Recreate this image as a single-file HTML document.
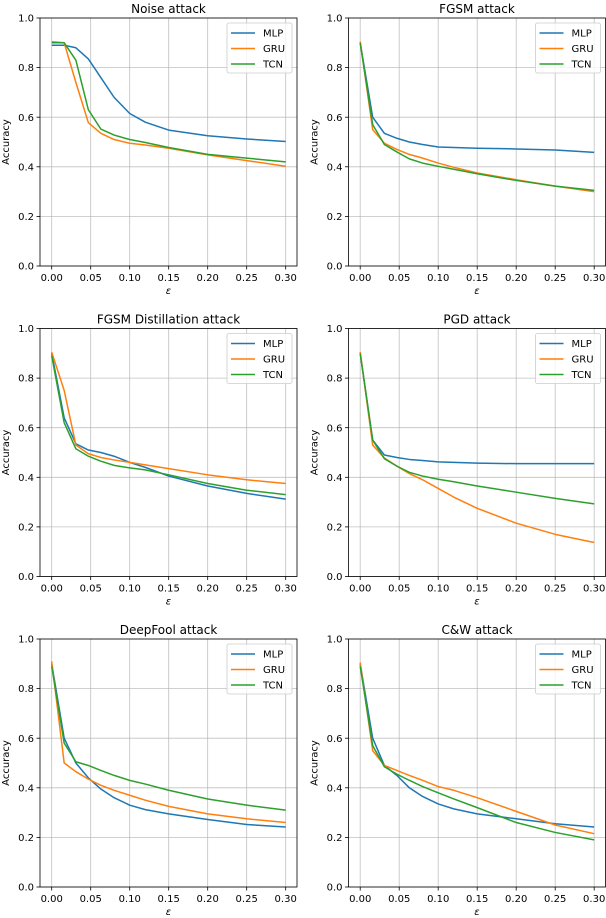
<!DOCTYPE html>
<html><head><meta charset="utf-8">
<style>
html,body{margin:0;padding:0;background:#fff;}
svg{display:block;font-family:"DejaVu Sans","Liberation Sans",sans-serif;}
</style></head>
<body>
<svg id="fig" width="606" height="918" viewBox="0 0 606 918" xmlns="http://www.w3.org/2000/svg"></svg>
<script>
const eps = [0,0.016,0.031,0.047,0.063,0.08,0.1,0.12,0.15,0.2,0.25,0.3];
const seriesNames = ["MLP","GRU","TCN"];
const seriesColors = ["#1f77b4","#ff7f0e","#2ca02c"];
const xTicks = [0,0.05,0.10,0.15,0.20,0.25,0.30];
const xTickLabels = ["0.00","0.05","0.10","0.15","0.20","0.25","0.30"];
const yTicks = [0,0.2,0.4,0.6,0.8,1.0];
const yTickLabels = ["0.0","0.2","0.4","0.6","0.8","1.0"];
const titles = ["Noise attack","FGSM attack","FGSM Distillation attack","PGD attack","DeepFool attack","C&W attack"];

const noiseMLP = [0.89,0.89,0.88,0.835,0.76,0.68,0.615,0.58,0.548,0.525,0.512,0.502];
const noiseGRU = [0.905,0.90,0.74,0.578,0.535,0.51,0.495,0.488,0.475,0.448,0.425,0.402];
const noiseTCN = [0.90,0.90,0.83,0.63,0.552,0.528,0.51,0.498,0.478,0.45,0.435,0.42];
const fgsmMLP = [0.90,0.60,0.535,0.515,0.50,0.49,0.48,0.478,0.475,0.472,0.468,0.458];
const fgsmGRU = [0.905,0.55,0.495,0.47,0.45,0.435,0.415,0.398,0.375,0.348,0.322,0.30];
const fgsmTCN = [0.90,0.57,0.49,0.46,0.432,0.415,0.402,0.39,0.372,0.345,0.322,0.305];
const distMLP = [0.90,0.64,0.535,0.51,0.50,0.485,0.46,0.44,0.405,0.365,0.335,0.312];
const distGRU = [0.905,0.75,0.53,0.495,0.48,0.47,0.46,0.45,0.435,0.41,0.39,0.375];
const distTCN = [0.89,0.62,0.515,0.485,0.465,0.448,0.438,0.43,0.41,0.375,0.348,0.33];
const pgdMLP = [0.90,0.55,0.49,0.48,0.472,0.468,0.462,0.46,0.457,0.455,0.455,0.455];
const pgdGRU = [0.905,0.53,0.478,0.445,0.415,0.39,0.355,0.32,0.275,0.215,0.17,0.137];
const pgdTCN = [0.90,0.55,0.475,0.445,0.42,0.405,0.392,0.382,0.365,0.34,0.315,0.293];
const dfMLP = [0.90,0.60,0.50,0.44,0.395,0.36,0.33,0.312,0.295,0.272,0.252,0.242];
const dfGRU = [0.91,0.50,0.465,0.435,0.41,0.39,0.37,0.35,0.325,0.295,0.275,0.26];
const dfTCN = [0.89,0.58,0.505,0.49,0.47,0.45,0.43,0.415,0.39,0.355,0.33,0.31];
const cwMLP = [0.90,0.60,0.49,0.45,0.40,0.365,0.335,0.315,0.295,0.275,0.255,0.242];
const cwGRU = [0.905,0.55,0.49,0.47,0.45,0.43,0.405,0.39,0.36,0.305,0.25,0.215];
const cwTCN = [0.89,0.57,0.485,0.455,0.43,0.405,0.38,0.355,0.32,0.26,0.22,0.19];

const panelData = [
  [noiseMLP,noiseGRU,noiseTCN],[fgsmMLP,fgsmGRU,fgsmTCN],
  [distMLP,distGRU,distTCN],[pgdMLP,pgdGRU,pgdTCN],
  [dfMLP,dfGRU,dfTCN],[cwMLP,cwGRU,cwTCN]
];
const panelNames = ["noise","fgsm","fgsm-distillation","pgd","deepfool","cw"];

const NS="http://www.w3.org/2000/svg";
const svg=document.getElementById('fig');
function mk(tag,attrs,parent,text){const e=document.createElementNS(NS,tag);for(const k in attrs)e.setAttribute(k,attrs[k]);if(text!==undefined)e.textContent=text;parent.appendChild(e);return e;}

const lefts=[40,348.5], tops=[18,328.5,639], W=257, H=248;
const XMIN=-0.015, XMAX=0.3145;

panelData.forEach((series,i)=>{
  const L=lefts[i%2], T=tops[Math.floor(i/2)];
  const xs=v=>L+(v-XMIN)/(XMAX-XMIN)*W;
  const ys=v=>T+H-v*H;
  const g=mk('g',{},svg);
  
  
  // grid
  xTicks.forEach(t=>{const l=mk('line',{x1:xs(t),x2:xs(t),y1:T,y2:T+H,stroke:'#b0b0b0','stroke-width':0.8,'stroke-opacity':0.8},g);
    });
  yTicks.forEach(t=>{const l=mk('line',{x1:L,x2:L+W,y1:ys(t),y2:ys(t),stroke:'#b0b0b0','stroke-width':0.8,'stroke-opacity':0.8},g);
    });
  // series
  series.forEach((vals,s)=>{
    const pts=vals.map((v,k)=>xs(eps[k]).toFixed(2)+','+ys(v).toFixed(2)).join(' ');
    const pl=mk('polyline',{points:pts,fill:'none',stroke:seriesColors[s],'stroke-width':1.5,'stroke-linejoin':'round'},g);
    
    
  });
  // frame
  const fr=mk('rect',{x:L,y:T,width:W,height:H,fill:'none',stroke:'#000','stroke-width':0.8},g);
  
  // ticks
  xTicks.forEach((t,k)=>{mk('line',{x1:xs(t),x2:xs(t),y1:T+H,y2:T+H+3.5,stroke:'#000','stroke-width':0.8},g);
    const tx=mk('text',{x:xs(t),y:T+H+15,'font-size':10,'text-anchor':'middle',fill:'#000'},g,xTickLabels[k]);
    });
  yTicks.forEach((t,k)=>{mk('line',{x1:L-3.5,x2:L,y1:ys(t),y2:ys(t),stroke:'#000','stroke-width':0.8},g);
    const tx=mk('text',{x:L-6,y:ys(t)+3.6,'font-size':10,'text-anchor':'end',fill:'#000'},g,yTickLabels[k]);
    });
  // labels
  const tt=mk('text',{x:L+W/2,y:T-5,'font-size':12,'text-anchor':'middle',fill:'#000'},g,titles[i]);
  
  const xl=mk('text',{x:L+W/2,y:T+H+28,'font-size':10,'font-style':'italic','text-anchor':'middle',fill:'#000'},g,'ε');
  
  const yl=mk('text',{x:0,y:0,'font-size':10,'text-anchor':'middle',fill:'#000',transform:`translate(${L-31},${T+H/2}) rotate(-90)`},g,'Accuracy');
  
  // legend
  const lx=L+W-70, ly=T+5;
  const lg=mk('g',{},g);
  
  mk('rect',{x:lx,y:ly,width:65,height:50,rx:2,fill:'#fff','fill-opacity':0.8,stroke:'#cccccc','stroke-width':0.8},lg);
  seriesNames.forEach((n,s)=>{
    const yy=ly+10+s*15.5;
    mk('line',{x1:lx+4,x2:lx+28,y1:yy,y2:yy,stroke:seriesColors[s],'stroke-width':1.5},lg);
    const te=mk('text',{x:lx+36,y:yy+3.6,'font-size':10,fill:'#000'},lg,n);
    
  });
});
</script>
</body></html>
